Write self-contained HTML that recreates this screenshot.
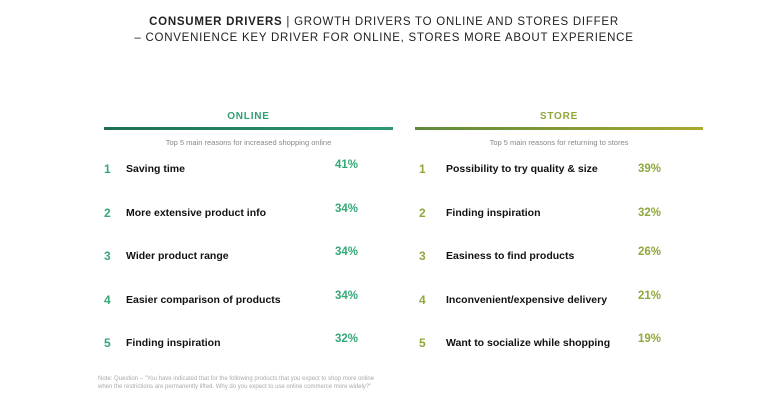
<!DOCTYPE html>
<html><head><meta charset="utf-8"><style>
body{margin:0;width:768px;height:418px;background:#fff;font-family:"Liberation Sans",sans-serif;position:relative;overflow:hidden}
.a{position:absolute;white-space:nowrap}
.t{left:0;width:768px;text-align:center;font-size:11.5px;letter-spacing:0.75px;color:#222}
.h{font-size:10px;font-weight:bold;letter-spacing:.8px;text-align:center}
.sub{font-size:7.5px;color:#888;text-align:center}
.n{font-size:12px;font-weight:bold}
.l{font-size:10.5px;font-weight:bold;color:#111}
.p{font-size:11.5px;font-weight:bold}
</style></head><body>
<div class="a t" style="top:16px"><b>CONSUMER DRIVERS</b> | GROWTH DRIVERS TO ONLINE AND STORES DIFFER</div>
<div class="a t" style="top:32px">– CONVENIENCE KEY DRIVER FOR ONLINE, STORES MORE ABOUT EXPERIENCE</div>
<div class="a h" style="left:104px;width:289px;top:111px;color:#2fa070">ONLINE</div>
<div class="a" style="left:104px;width:289px;top:127px;height:3px;background:linear-gradient(90deg,#1d6e54,#2d9a72)"></div>
<div class="a sub" style="left:104px;width:289px;top:138px">Top 5 main reasons for increased shopping online</div>
<div class="a h" style="left:415px;width:288px;top:111px;color:#8ea83a">STORE</div>
<div class="a" style="left:415px;width:288px;top:127px;height:3px;background:linear-gradient(90deg,#5e8a3c,#a8a830)"></div>
<div class="a sub" style="left:415px;width:288px;top:138px">Top 5 main reasons for returning to stores</div>
<div class="a" style="left:98px;top:376px;font-size:6px;color:#aaa;line-height:7.5px">Note: Question – "You have indicated that for the following products that you expect to shop more online<br>when the restrictions are permanently lifted. Why do you expect to use online commerce more widely?"</div>
<div id="rows"></div>
<script>
const onlineLabels=["Saving time","More extensive product info","Wider product range","Easier comparison of products","Finding inspiration"];
const onlineValues=[41,34,34,34,32];
const storeLabels=["Possibility to try quality & size","Finding inspiration","Easiness to find products","Inconvenient/expensive delivery","Want to socialize while shopping"];
const storeValues=[39,32,26,21,19];
const root=document.getElementById('rows');
function add(cls,left,top,txt,color,name){
  const d=document.createElement('div');
  d.className='a '+cls;d.style.left=left+'px';d.style.top=top+'px';
  if(color)d.style.color=color;d.textContent=txt;
  
  
  root.appendChild(d);
}
function rowY(i){return 162+i*43.5;}
onlineLabels.forEach((s,i)=>{
  add('n',104,rowY(i),String(i+1),'#35a878','online-rank');
  add('l',126,rowY(i)+1,s,null,'online-reason');
  add('p',335,rowY(i)-3,onlineValues[i]+'%','#35a878','online-value');
});
storeLabels.forEach((s,i)=>{
  add('n',419,rowY(i),String(i+1),'#8ea83a','store-rank');
  add('l',446,rowY(i)+1,s,null,'store-reason');
  add('p',638,rowY(i)+(i<2?1:-3),storeValues[i]+'%','#8ea83a','store-value');
});
</script>
</body></html>
